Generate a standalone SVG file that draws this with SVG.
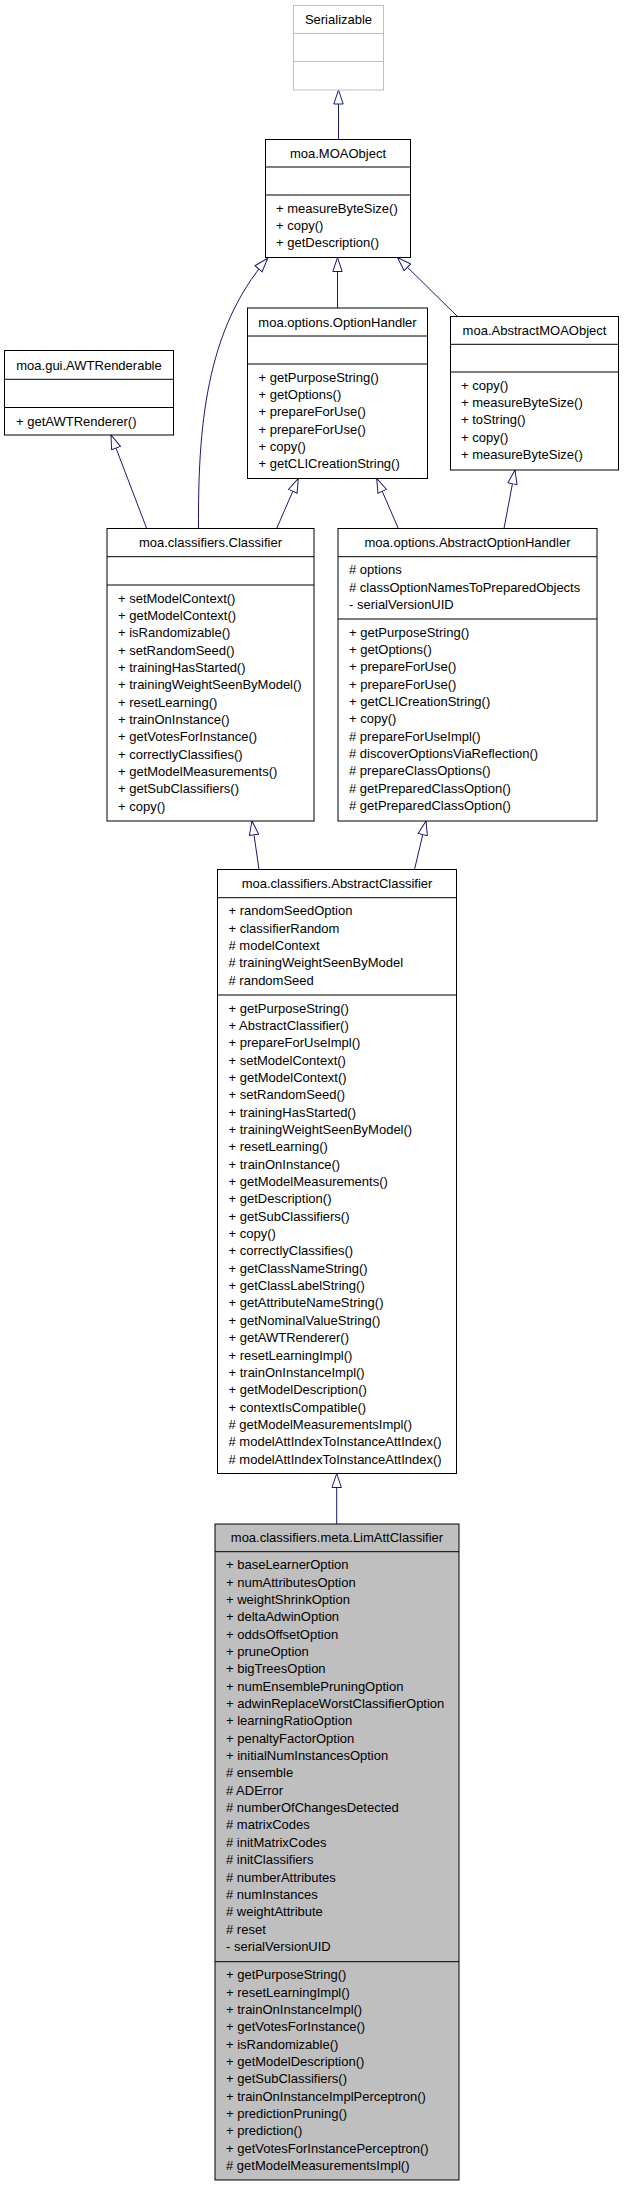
<svg xmlns="http://www.w3.org/2000/svg" width="624" height="2187" viewBox="0 0 624 2187">
<style>
.box{fill:#fff;stroke:#000;stroke-width:1}
.gray{fill:#fff;stroke:#bfbfbf;stroke-width:1}
.sel{fill:#bfbfbf;stroke:#000;stroke-width:1}
.div{fill:none;stroke:#000;stroke-width:1}
.divg{fill:none;stroke:#bfbfbf;stroke-width:1}
.t{font-family:"Liberation Sans",Arial,Helvetica,sans-serif;font-size:13px;fill:#000}
.c{text-anchor:middle}
.edge{fill:none;stroke:#191970;stroke-width:1;marker-end:url(#tri)}
</style>
<defs>
<marker id="tri" viewBox="0 0 15 11" refX="14.5" refY="5.5" markerWidth="15" markerHeight="11" markerUnits="userSpaceOnUse" orient="auto">
<path d="M0.5,0.8 L14.5,5.5 L0.5,10.2 Z" fill="#fff" stroke="#191970" stroke-width="1"/>
</marker>
</defs>
<rect width="624" height="2187" fill="#fff"/>

<g id="connectors">
<path class="edge" d="M338.5,139.5 L338.5,90"/>
<path class="edge" d="M337.5,308 L337.5,257.5"/>
<path class="edge" d="M457.5,316.5 L397.5,257.5"/>
<path class="edge" d="M198.5,528.5 C198,430 205,330 267.7,258.3"/>
<path class="edge" d="M146.7,528.5 L111,435"/>
<path class="edge" d="M276.7,528.5 L298.3,478.5"/>
<path class="edge" d="M398.3,528.5 L376.7,478.5"/>
<path class="edge" d="M504,528.5 L515,470"/>
<path class="edge" d="M259,869.5 L252,821"/>
<path class="edge" d="M414.5,869.5 L426,821"/>
<path class="edge" d="M336.7,1524 L336.7,1473.5"/>
</g>

<g id="Serializable">
<rect class="gray" x="293.5" y="5.5" width="90" height="84.5"/>
<path class="divg" d="M293.5,33.5 H383.5 M293.5,61.5 H383.5"/>
<text class="t c" x="338.5" y="24">Serializable</text>
</g>

<g id="MOAObject">
<rect class="box" x="265.5" y="139.5" width="145" height="118"/>
<path class="div" d="M265.5,167 H410.5 M265.5,195 H410.5"/>
<text class="t c" x="338" y="158">moa.MOAObject</text>
<text class="t" x="276" y="212.5"><tspan x="276">+ measureByteSize()</tspan><tspan x="276" dy="17.35">+ copy()</tspan><tspan x="276" dy="17.35">+ getDescription()</tspan></text>
</g>

<g id="OptionHandler">
<rect class="box" x="247.5" y="308" width="180" height="170.5"/>
<path class="div" d="M247.5,336 H427.5 M247.5,364 H427.5"/>
<text class="t c" x="337.5" y="326.5">moa.options.OptionHandler</text>
<text class="t" x="258.5" y="381.5"><tspan x="258.5">+ getPurposeString()</tspan><tspan x="258.5" dy="17.35">+ getOptions()</tspan><tspan x="258.5" dy="17.35">+ prepareForUse()</tspan><tspan x="258.5" dy="17.35">+ prepareForUse()</tspan><tspan x="258.5" dy="17.35">+ copy()</tspan><tspan x="258.5" dy="17.35">+ getCLICreationString()</tspan></text>
</g>

<g id="AbstractMOAObject">
<rect class="box" x="450.5" y="316.5" width="168" height="153.5"/>
<path class="div" d="M450.5,344.3 H618.5 M450.5,372 H618.5"/>
<text class="t c" x="534.5" y="334.5">moa.AbstractMOAObject</text>
<text class="t" x="461" y="389.5"><tspan x="461">+ copy()</tspan><tspan x="461" dy="17.35">+ measureByteSize()</tspan><tspan x="461" dy="17.35">+ toString()</tspan><tspan x="461" dy="17.35">+ copy()</tspan><tspan x="461" dy="17.35">+ measureByteSize()</tspan></text>
</g>

<g id="AWTRenderable">
<rect class="box" x="4.5" y="350.5" width="169" height="84.5"/>
<path class="div" d="M4.5,379.3 H173.5 M4.5,407.5 H173.5"/>
<text class="t c" x="89" y="369.5">moa.gui.AWTRenderable</text>
<text class="t" x="16" y="425.5">+ getAWTRenderer()</text>
</g>

<g id="Classifier">
<rect class="box" x="107" y="528.5" width="207" height="292.5"/>
<path class="div" d="M107,556.7 H314 M107,585 H314"/>
<text class="t c" x="210.5" y="546.5">moa.classifiers.Classifier</text>
<text class="t" x="118" y="602.5"><tspan x="118">+ setModelContext()</tspan><tspan x="118" dy="17.35">+ getModelContext()</tspan><tspan x="118" dy="17.35">+ isRandomizable()</tspan><tspan x="118" dy="17.35">+ setRandomSeed()</tspan><tspan x="118" dy="17.35">+ trainingHasStarted()</tspan><tspan x="118" dy="17.35">+ trainingWeightSeenByModel()</tspan><tspan x="118" dy="17.35">+ resetLearning()</tspan><tspan x="118" dy="17.35">+ trainOnInstance()</tspan><tspan x="118" dy="17.35">+ getVotesForInstance()</tspan><tspan x="118" dy="17.35">+ correctlyClassifies()</tspan><tspan x="118" dy="17.35">+ getModelMeasurements()</tspan><tspan x="118" dy="17.35">+ getSubClassifiers()</tspan><tspan x="118" dy="17.35">+ copy()</tspan></text>
</g>

<g id="AbstractOptionHandler">
<rect class="box" x="338" y="528.5" width="259" height="292.5"/>
<path class="div" d="M338,556.7 H597 M338,619 H597"/>
<text class="t c" x="467.5" y="546.5">moa.options.AbstractOptionHandler</text>
<text class="t" x="349" y="574.2"><tspan x="349"># options</tspan><tspan x="349" dy="17.35"># classOptionNamesToPreparedObjects</tspan><tspan x="349" dy="17.35">- serialVersionUID</tspan></text>
<text class="t" x="349" y="636.5"><tspan x="349">+ getPurposeString()</tspan><tspan x="349" dy="17.35">+ getOptions()</tspan><tspan x="349" dy="17.35">+ prepareForUse()</tspan><tspan x="349" dy="17.35">+ prepareForUse()</tspan><tspan x="349" dy="17.35">+ getCLICreationString()</tspan><tspan x="349" dy="17.35">+ copy()</tspan><tspan x="349" dy="17.35"># prepareForUseImpl()</tspan><tspan x="349" dy="17.35"># discoverOptionsViaReflection()</tspan><tspan x="349" dy="17.35"># prepareClassOptions()</tspan><tspan x="349" dy="17.35"># getPreparedClassOption()</tspan><tspan x="349" dy="17.35"># getPreparedClassOption()</tspan></text>
</g>

<g id="AbstractClassifier">
<rect class="box" x="217.5" y="869.5" width="239" height="604"/>
<path class="div" d="M217.5,897.7 H456.5 M217.5,995 H456.5"/>
<text class="t c" x="337" y="887.5">moa.classifiers.AbstractClassifier</text>
<text class="t" x="228.5" y="915.2"><tspan x="228.5">+ randomSeedOption</tspan><tspan x="228.5" dy="17.35">+ classifierRandom</tspan><tspan x="228.5" dy="17.35"># modelContext</tspan><tspan x="228.5" dy="17.35"># trainingWeightSeenByModel</tspan><tspan x="228.5" dy="17.35"># randomSeed</tspan></text>
<text class="t" x="228.5" y="1012.5"><tspan x="228.5">+ getPurposeString()</tspan><tspan x="228.5" dy="17.35">+ AbstractClassifier()</tspan><tspan x="228.5" dy="17.35">+ prepareForUseImpl()</tspan><tspan x="228.5" dy="17.35">+ setModelContext()</tspan><tspan x="228.5" dy="17.35">+ getModelContext()</tspan><tspan x="228.5" dy="17.35">+ setRandomSeed()</tspan><tspan x="228.5" dy="17.35">+ trainingHasStarted()</tspan><tspan x="228.5" dy="17.35">+ trainingWeightSeenByModel()</tspan><tspan x="228.5" dy="17.35">+ resetLearning()</tspan><tspan x="228.5" dy="17.35">+ trainOnInstance()</tspan><tspan x="228.5" dy="17.35">+ getModelMeasurements()</tspan><tspan x="228.5" dy="17.35">+ getDescription()</tspan><tspan x="228.5" dy="17.35">+ getSubClassifiers()</tspan><tspan x="228.5" dy="17.35">+ copy()</tspan><tspan x="228.5" dy="17.35">+ correctlyClassifies()</tspan><tspan x="228.5" dy="17.35">+ getClassNameString()</tspan><tspan x="228.5" dy="17.35">+ getClassLabelString()</tspan><tspan x="228.5" dy="17.35">+ getAttributeNameString()</tspan><tspan x="228.5" dy="17.35">+ getNominalValueString()</tspan><tspan x="228.5" dy="17.35">+ getAWTRenderer()</tspan><tspan x="228.5" dy="17.35">+ resetLearningImpl()</tspan><tspan x="228.5" dy="17.35">+ trainOnInstanceImpl()</tspan><tspan x="228.5" dy="17.35">+ getModelDescription()</tspan><tspan x="228.5" dy="17.35">+ contextIsCompatible()</tspan><tspan x="228.5" dy="17.35"># getModelMeasurementsImpl()</tspan><tspan x="228.5" dy="17.35"># modelAttIndexToInstanceAttIndex()</tspan><tspan x="228.5" dy="17.35"># modelAttIndexToInstanceAttIndex()</tspan></text>
</g>

<g id="LimAttClassifier">
<rect class="sel" x="215" y="1524" width="244" height="656"/>
<path class="div" d="M215,1551.7 H459 M215,1961.7 H459"/>
<text class="t c" x="337" y="1542">moa.classifiers.meta.LimAttClassifier</text>
<text class="t" x="226" y="1569.2"><tspan x="226">+ baseLearnerOption</tspan><tspan x="226" dy="17.35">+ numAttributesOption</tspan><tspan x="226" dy="17.35">+ weightShrinkOption</tspan><tspan x="226" dy="17.35">+ deltaAdwinOption</tspan><tspan x="226" dy="17.35">+ oddsOffsetOption</tspan><tspan x="226" dy="17.35">+ pruneOption</tspan><tspan x="226" dy="17.35">+ bigTreesOption</tspan><tspan x="226" dy="17.35">+ numEnsemblePruningOption</tspan><tspan x="226" dy="17.35">+ adwinReplaceWorstClassifierOption</tspan><tspan x="226" dy="17.35">+ learningRatioOption</tspan><tspan x="226" dy="17.35">+ penaltyFactorOption</tspan><tspan x="226" dy="17.35">+ initialNumInstancesOption</tspan><tspan x="226" dy="17.35"># ensemble</tspan><tspan x="226" dy="17.35"># ADError</tspan><tspan x="226" dy="17.35"># numberOfChangesDetected</tspan><tspan x="226" dy="17.35"># matrixCodes</tspan><tspan x="226" dy="17.35"># initMatrixCodes</tspan><tspan x="226" dy="17.35"># initClassifiers</tspan><tspan x="226" dy="17.35"># numberAttributes</tspan><tspan x="226" dy="17.35"># numInstances</tspan><tspan x="226" dy="17.35"># weightAttribute</tspan><tspan x="226" dy="17.35"># reset</tspan><tspan x="226" dy="17.35">- serialVersionUID</tspan></text>
<text class="t" x="226" y="1979.2"><tspan x="226">+ getPurposeString()</tspan><tspan x="226" dy="17.35">+ resetLearningImpl()</tspan><tspan x="226" dy="17.35">+ trainOnInstanceImpl()</tspan><tspan x="226" dy="17.35">+ getVotesForInstance()</tspan><tspan x="226" dy="17.35">+ isRandomizable()</tspan><tspan x="226" dy="17.35">+ getModelDescription()</tspan><tspan x="226" dy="17.35">+ getSubClassifiers()</tspan><tspan x="226" dy="17.35">+ trainOnInstanceImplPerceptron()</tspan><tspan x="226" dy="17.35">+ predictionPruning()</tspan><tspan x="226" dy="17.35">+ prediction()</tspan><tspan x="226" dy="17.35">+ getVotesForInstancePerceptron()</tspan><tspan x="226" dy="17.35"># getModelMeasurementsImpl()</tspan></text>
</g>
</svg>
